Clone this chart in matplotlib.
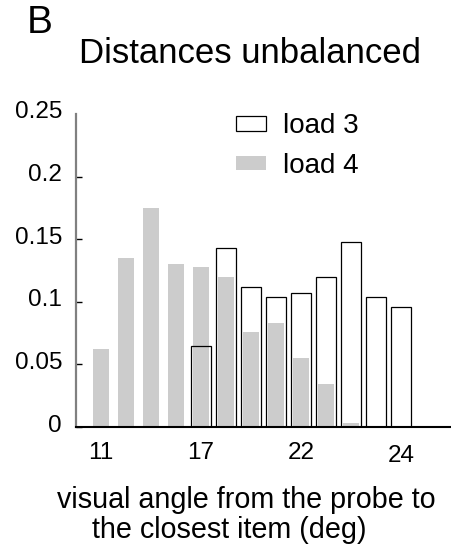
import matplotlib
matplotlib.use("Agg")
import matplotlib.pyplot as plt
import matplotlib.transforms as mtransforms
from matplotlib.patches import Patch
import numpy as np

plt.rcParams['font.family'] = ['Liberation Sans', 'DejaVu Sans']

# ---- data ----
bin_index = [1, 2, 3, 4, 5, 6, 7, 8, 9, 10, 11, 12, 13]
load3 = [0, 0, 0, 0, 0.065, 0.143, 0.112, 0.104, 0.107, 0.120, 0.148, 0.104, 0.096]
load4 = [0.062, 0.135, 0.175, 0.130, 0.128, 0.120, 0.076, 0.083, 0.055, 0.034, 0.003, 0, 0]
xtick_pos = [1, 5, 9, 13]
xtick_labels = ['11', '17', '22', '24']
ytick_vals = [0, 0.05, 0.1, 0.15, 0.2, 0.25]
ytick_labels = ['0', '0.05', '0.1', '0.15', '0.2', '0.25']

W, H = 451, 545
fig = plt.figure(figsize=(W / 100, H / 100), dpi=100)
ax = fig.add_axes([76 / W, 1 - 427 / H, (W - 76) / W, (427 - 114) / H])

ax.bar(bin_index, load4, width=0.64, color='#cccccc', edgecolor='none', zorder=2)
ax.bar(bin_index, load3, width=0.77, facecolor='none', edgecolor='black',
       linewidth=0.9, zorder=3)

ax.set_xlim(0, 15)
ax.set_ylim(0, 0.25)

for s in ['top', 'right']:
    ax.spines[s].set_visible(False)
ax.spines['left'].set_color('#808080')
ax.spines['left'].set_linewidth(1.6)
ax.spines['bottom'].set_color('black')
ax.spines['bottom'].set_linewidth(1.5)

ax.set_yticks(ytick_vals)
ax.set_yticklabels(ytick_labels, fontsize=17.5)
ax.tick_params(axis='y', direction='in', length=4, width=1, color='black', pad=10)
ax.set_xticks(xtick_pos)
ax.set_xticklabels(xtick_labels, fontsize=17.5)
ax.tick_params(axis='x', length=0, pad=11)

# small visual offsets of tick labels
yoff = mtransforms.ScaledTranslation(0, 4 / 100, fig.dpi_scale_trans)
for lab in ax.get_yticklabels():
    lab.set_transform(lab.get_transform() + yoff)
xoff = mtransforms.ScaledTranslation(0, -3 / 100, fig.dpi_scale_trans)
labs = ax.get_xticklabels()
labs[-1].set_transform(labs[-1].get_transform() + xoff)

# hide the top tick mark at 0.25
ax.yaxis.get_major_ticks()[-1].tick1line.set_visible(False)

handles = [Patch(facecolor='white', edgecolor='black', linewidth=0.9, label='load 3'),
           Patch(facecolor='#cccccc', edgecolor='none', label='load 4')]
leg = ax.legend(handles=handles, loc='upper left',
                bbox_to_anchor=(236 / W, 1 - 113 / H), bbox_transform=fig.transFigure,
                frameon=False, fontsize=20, borderpad=0, borderaxespad=0,
                handlelength=1.08, handleheight=0.45, handletextpad=0.6,
                labelspacing=0.5)

fig.text(250 / W, 1 - 63 / H, 'Distances unbalanced', fontsize=25,
         ha='center', va='baseline')
fig.text(27 / W, 1 - 33 / H, 'B', fontsize=28, ha='left', va='baseline')
fig.text(57 / W, 1 - 508 / H, 'visual angle from the probe to', fontsize=20.7,
         ha='left', va='baseline')
fig.text(92 / W, 1 - 538 / H, 'the closest item (deg)', fontsize=20.7,
         ha='left', va='baseline')

fig.savefig('out.png', dpi=100)
